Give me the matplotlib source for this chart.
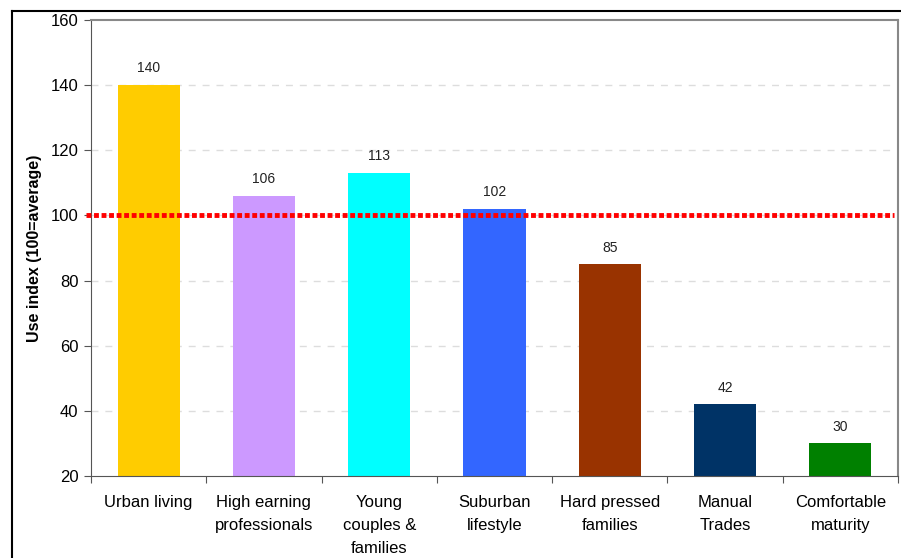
import numpy as np
import matplotlib
matplotlib.use("Agg")
import matplotlib.pyplot as plt
from matplotlib.lines import Line2D

plt.rcParams['font.family'] = ['Liberation Sans', 'DejaVu Sans']

categories = ["Urban living", "High earning\nprofessionals", "Young\ncouples &\nfamilies",
              "Suburban\nlifestyle", "Hard pressed\nfamilies", "Manual\nTrades", "Comfortable\nmaturity"]
values = [140, 106, 113, 102, 85, 42, 30]
colors = ["#FFCC00", "#CC99FF", "#00FFFF", "#3366FF", "#993300", "#003366", "#008000"]
average = 100

fig = plt.figure(figsize=(9.01, 5.58), dpi=100)
ax = fig.add_axes([91/901, 82/558, 807/901, 456/558])

x = np.arange(len(categories))
ax.bar(x, np.array(values) - 20, bottom=20, width=0.54, color=colors, zorder=2)
for xi, v in zip(x, values):
    ax.annotate(str(v), (xi, v), xytext=(0, 7), textcoords='offset points',
                ha='center', va='bottom', fontsize=10, color='#222222')

ax.plot([-0.543, 6.465], [average, average], color='#FF0000', lw=3.5,
        linestyle=(0, (1, 0.55)), clip_on=False, zorder=3)

ax.set_xlim(-0.5, 6.5)
ax.set_ylim(20, 160)
ax.set_yticks(np.arange(20, 161, 20))
ax.tick_params(axis='y', labelsize=12, length=5, color='#555555', direction='out', pad=4)
ax.set_xticks(np.arange(-0.5, 6.6, 1))
ax.set_xticklabels([])
ax.tick_params(axis='x', length=5, color='#555555', direction='out')
ax.set_xticks(x, minor=True)
ax.set_xticklabels(categories, minor=True, fontsize=12, linespacing=1.65)
ax.tick_params(axis='x', which='minor', length=0, pad=14)

for yv in np.arange(40, 141, 20):
    ax.axhline(yv, color='#DDDDDD', lw=1, linestyle=(0, (5, 5)), zorder=1)

ax.set_ylabel("Use index (100=average)", fontsize=11.5, fontweight='bold', labelpad=6)
for s in ['left', 'bottom']:
    ax.spines[s].set_color('#555555')
for s in ['top', 'right']:
    ax.spines[s].set_color('#888888')
    ax.spines[s].set_linewidth(1.5)

# outer chart frame
fig.add_artist(Line2D([12/901, 12/901], [0, 1 - 11/558], color='black', lw=1.5))
fig.add_artist(Line2D([12/901, 1], [1 - 11/558, 1 - 11/558], color='black', lw=1.5))

fig.savefig("out.png", dpi=100)
